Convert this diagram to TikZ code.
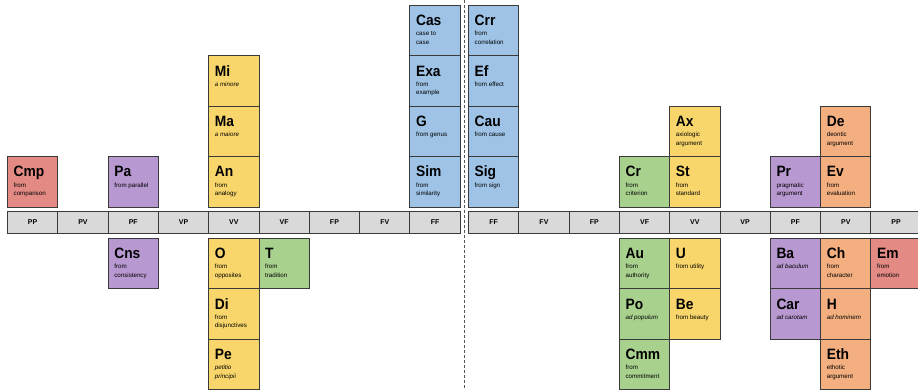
\documentclass[tikz,border=0pt]{standalone}
\usepackage{fontspec}
\setmainfont{Liberation Sans}

\definecolor{boxline}{HTML}{3A3A3A}
\definecolor{axisgray}{HTML}{D9D9D9}
\definecolor{cred}{HTML}{E38A84}
\definecolor{cpurple}{HTML}{B898D1}
\definecolor{cyellow}{HTML}{F9D66C}
\definecolor{cgreen}{HTML}{A9D18E}
\definecolor{cblue}{HTML}{9EC3E6}
\definecolor{corange}{HTML}{F3AF80}
\definecolor{divgray}{HTML}{555555}

\tikzset{
  argbox/.style={draw=boxline, line width=1pt, minimum width=50.3pt,
    minimum height=50.4pt, inner sep=0pt, anchor=north west},
  abbr/.style={font=\fontsize{15}{16}\selectfont\bfseries, inner sep=0pt,
    anchor=base west},
  subtxt/.style={font=\fontsize{6.2}{8.6}\selectfont, inner sep=0pt,
    anchor=north west, align=left},
  axcell/.style={draw=boxline, fill=axisgray, line width=1pt,
    minimum width=50.3pt, minimum height=22pt, inner sep=0pt,
    anchor=north west, font=\fontsize{7}{9}\selectfont\bfseries},
  divider/.style={draw=divgray, line width=1pt, dash pattern=on 3pt off 2pt},
}

% one argument tile: name, left x, top y, fill, abbreviation, description
\newcommand\argtile[6]{%
  \node[argbox, fill=#4] (#1) at (#2,#3) {};
  \node[abbr] (#1-a) at ([xshift=6.5pt,yshift=-20.8pt]#1.north west)
    {\scalebox{0.92}[1]{#5}};
  \node[subtxt] (#1-s) at ([xshift=6.5pt,yshift=-26.3pt]#1.north west) {#6};
}

\begin{document}
\begin{tikzpicture}[x=1pt, y=-1pt]
\useasboundingbox (0,0) rectangle (918,389);
\clip (0,0) rectangle (918,389);

% central divider
\coordinate (divtop) at (464,0);
\coordinate (divbot) at (464,389);
\draw[divider] (divtop) -- (divbot);

% axis cells, left half
\foreach \lab [count=\i from 0] in {PP,PV,PF,VP,VV,VF,FP,FV,FF}
  \node[axcell] (axL\i) at (7+50.3*\i,211) {\lab};
% axis cells, right half
\foreach \lab [count=\i from 0] in {FF,FV,FP,VF,VV,VP,PF,PV,PP}
  \node[axcell] (axR\i) at (468+50.3*\i,211) {\lab};

% ---- left half ----
\argtile{Cmp}{7}{156.1}{cred}{Cmp}{from\\comparison}
\argtile{Pa}{107.6}{156.1}{cpurple}{Pa}{from parallel}
\argtile{Cns}{107.6}{238}{cpurple}{Cns}{from\\consistency}

\argtile{Mi}{208.2}{55.3}{cyellow}{Mi}{\textit{a minore}}
\argtile{Ma}{208.2}{105.7}{cyellow}{Ma}{\textit{a maiore}}
\argtile{An}{208.2}{156.1}{cyellow}{An}{from\\analogy}
\argtile{O}{208.2}{238}{cyellow}{O}{from\\opposites}
\argtile{Di}{208.2}{288.4}{cyellow}{Di}{from\\disjunctives}
\argtile{Pe}{208.2}{338.8}{cyellow}{Pe}{\textit{petitio}\\\textit{principii}}
\argtile{T}{258.5}{238}{cgreen}{T}{from\\tradition}

\argtile{Cas}{409.4}{4.9}{cblue}{Cas}{case to\\case}
\argtile{Exa}{409.4}{55.3}{cblue}{Exa}{from\\example}
\argtile{G}{409.4}{105.7}{cblue}{G}{from genus}
\argtile{Sim}{409.4}{156.1}{cblue}{Sim}{from\\similarity}

% ---- right half ----
\argtile{Crr}{468}{4.9}{cblue}{Crr}{from\\correlation}
\argtile{Ef}{468}{55.3}{cblue}{Ef}{from effect}
\argtile{Cau}{468}{105.7}{cblue}{Cau}{from cause}
\argtile{Sig}{468}{156.1}{cblue}{Sig}{from sign}

\argtile{Cr}{618.9}{156.1}{cgreen}{Cr}{from\\criterion}
\argtile{Ax}{669.2}{105.7}{cyellow}{Ax}{axiologic\\argument}
\argtile{St}{669.2}{156.1}{cyellow}{St}{from\\standard}
\argtile{Au}{618.9}{238}{cgreen}{Au}{from\\authority}
\argtile{Po}{618.9}{288.4}{cgreen}{Po}{\textit{ad populum}}
\argtile{Cmm}{618.9}{338.8}{cgreen}{Cmm}{from\\commitment}
\argtile{U}{669.2}{238}{cyellow}{U}{from utility}
\argtile{Be}{669.2}{288.4}{cyellow}{Be}{from beauty}

\argtile{Pr}{769.8}{156.1}{cpurple}{Pr}{pragmatic\\argument}
\argtile{De}{820.1}{105.7}{corange}{De}{deontic\\argument}
\argtile{Ev}{820.1}{156.1}{corange}{Ev}{from\\evaluation}
\argtile{Ba}{769.8}{238}{cpurple}{Ba}{\textit{ad baculum}}
\argtile{Car}{769.8}{288.4}{cpurple}{Car}{\textit{ad carotam}}
\argtile{Ch}{820.1}{238}{corange}{Ch}{from\\character}
\argtile{H}{820.1}{288.4}{corange}{H}{\textit{ad hominem}}
\argtile{Eth}{820.1}{338.8}{corange}{Eth}{ethotic\\argument}
\argtile{Em}{870.4}{238}{cred}{Em}{from\\emotion}
\end{tikzpicture}
\end{document}
